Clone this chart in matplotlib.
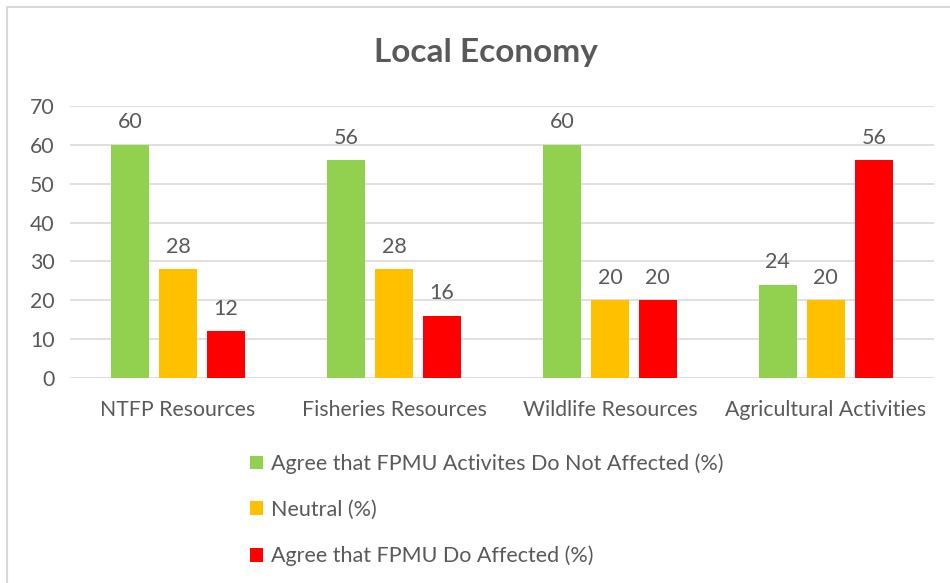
import numpy as np
import matplotlib.pyplot as plt
from matplotlib.patches import Rectangle

categories = ["NTFP Resources", "Fisheries Resources", "Wildlife Resources", "Agricultural Activities"]
series_names = ["Agree that FPMU Activites Do Not Affected (%)",
                "Neutral (%)",
                "Agree that FPMU Do Affected (%)"]
not_affected = [60, 56, 60, 24]
neutral = [28, 28, 20, 20]
affected = [12, 16, 20, 56]
colors = ["#92d050", "#ffc000", "#ff0000"]

plt.rcParams['font.family'] = ['Lato', 'DejaVu Sans']
text_color = "#595959"

fig = plt.figure(figsize=(9.5, 5.83), dpi=100)
ax = fig.add_axes([0.0737, 0.3516, 0.9093, 0.4664])

x = np.arange(len(categories))
width = 0.176
step = 0.222
handles = []
for i, (vals, name) in enumerate(zip([not_affected, neutral, affected], series_names)):
    bars = ax.bar(x + (i - 1) * step, vals, width, color=colors[i], label=name, zorder=3)
    handles.append(bars)
    for b, v in zip(bars, vals):
        ax.annotate(str(v), (b.get_x() + b.get_width() / 2, v),
                    xytext=(0, 9), textcoords="offset points",
                    ha="center", va="bottom", fontsize=15.5, color=text_color)

ax.set_xlim(-0.5, 3.5)
ax.set_ylim(0, 70)
ax.set_yticks(range(0, 71, 10))
ax.set_xticks(x)
ax.set_xticklabels(categories)
ax.grid(axis="y", color="#d9d9d9", linewidth=1.2, zorder=0)
for s in ax.spines.values():
    s.set_visible(False)
ax.tick_params(axis="both", length=0, labelsize=15.3, colors=text_color)
ax.tick_params(axis="x", pad=16)
ax.tick_params(axis="y", pad=11)

fig.text(0.511, 0.91, "Local Economy", ha="center", va="center",
         fontsize=24, fontweight="bold", color=text_color)

fig.legend(handles=handles, labels=series_names, loc="upper left",
           bbox_to_anchor=(0.254, 0.237), frameon=False, fontsize=15.5,
           labelcolor=text_color, handlelength=0.6, handleheight=0.6,
           handletextpad=0.4, labelspacing=1.2, borderaxespad=0)

# chart border (cropped at the right and bottom)
fig.patches.append(Rectangle((7 / 950, -0.1), 1.2, 1 - 7 / 583 + 0.1,
                             transform=fig.transFigure, fill=False,
                             edgecolor="#d9d9d9", linewidth=1.5))

fig.savefig("out.png", dpi=100)
